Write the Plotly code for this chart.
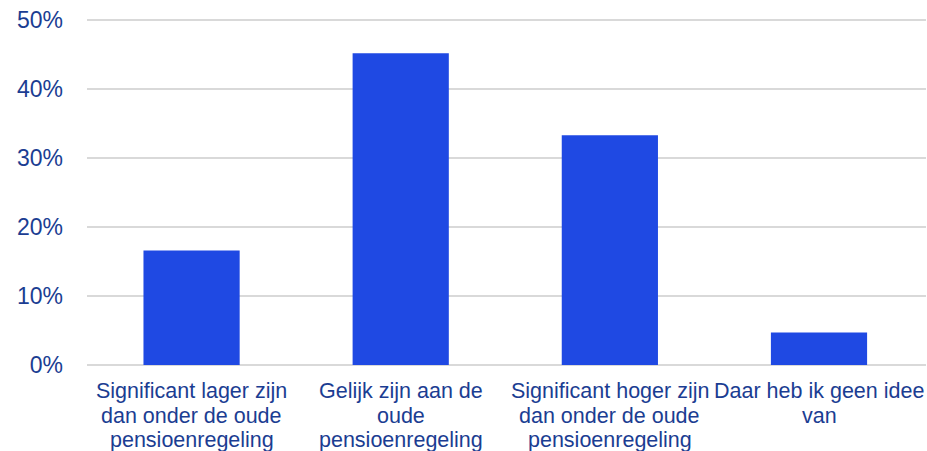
import plotly.graph_objects as go

categories = [
    "Significant lager zijn<br>dan onder de oude<br>pensioenregeling",
    "Gelijk zijn aan de<br>oude<br>pensioenregeling",
    "Significant hoger zijn<br>dan onder de oude<br>pensioenregeling",
    "Daar heb ik geen idee<br>van",
]
shares = [0.166, 0.452, 0.333, 0.047]
y_ticks = [0, 0.1, 0.2, 0.3, 0.4, 0.5]

bar_color = "#1f49e3"
text_color = "#1b3d92"
grid_color = "#d9d9d9"

fig = go.Figure(go.Bar(x=categories, y=shares, marker=dict(color=bar_color, line=dict(width=0))))

# category labels: one annotation per line, tighter line spacing than plotly's <br>
line_offsets = [-26, -51, -75]
for cat in categories:
    for i, line in enumerate(cat.split("<br>")):
        fig.add_annotation(
            x=cat, xref="x", y=0, yref="paper",
            text=line, showarrow=False,
            xanchor="center", yanchor="middle",
            yshift=line_offsets[i],
            font=dict(size=21.5, color=text_color),
        )

fig.update_layout(
    width=927, height=451,
    margin=dict(l=87, r=1, t=18, b=86),
    paper_bgcolor="white", plot_bgcolor="white",
    bargap=0.54,
    showlegend=False,
    font=dict(family="Liberation Sans, Arial, sans-serif", size=20, color=text_color),
)
# range a hair above 50% so the top gridline is still drawn
fig.update_yaxes(
    range=[0, 0.503], tickvals=y_ticks, tickformat=".0%",
    showgrid=True, gridcolor=grid_color, gridwidth=2,
    zeroline=True, zerolinecolor=grid_color, zerolinewidth=2,
    ticklabelstandoff=23, tickfont=dict(size=23), automargin=False,
    ticklabeloverflow="allow",
)
fig.update_xaxes(showgrid=False, showline=False, showticklabels=False, automargin=False)

# drop the default 8px body margin so the figure fills the window
fig.write_html("out.html", config={"displayModeBar": False},
               post_script="document.body.style.margin='0';")
